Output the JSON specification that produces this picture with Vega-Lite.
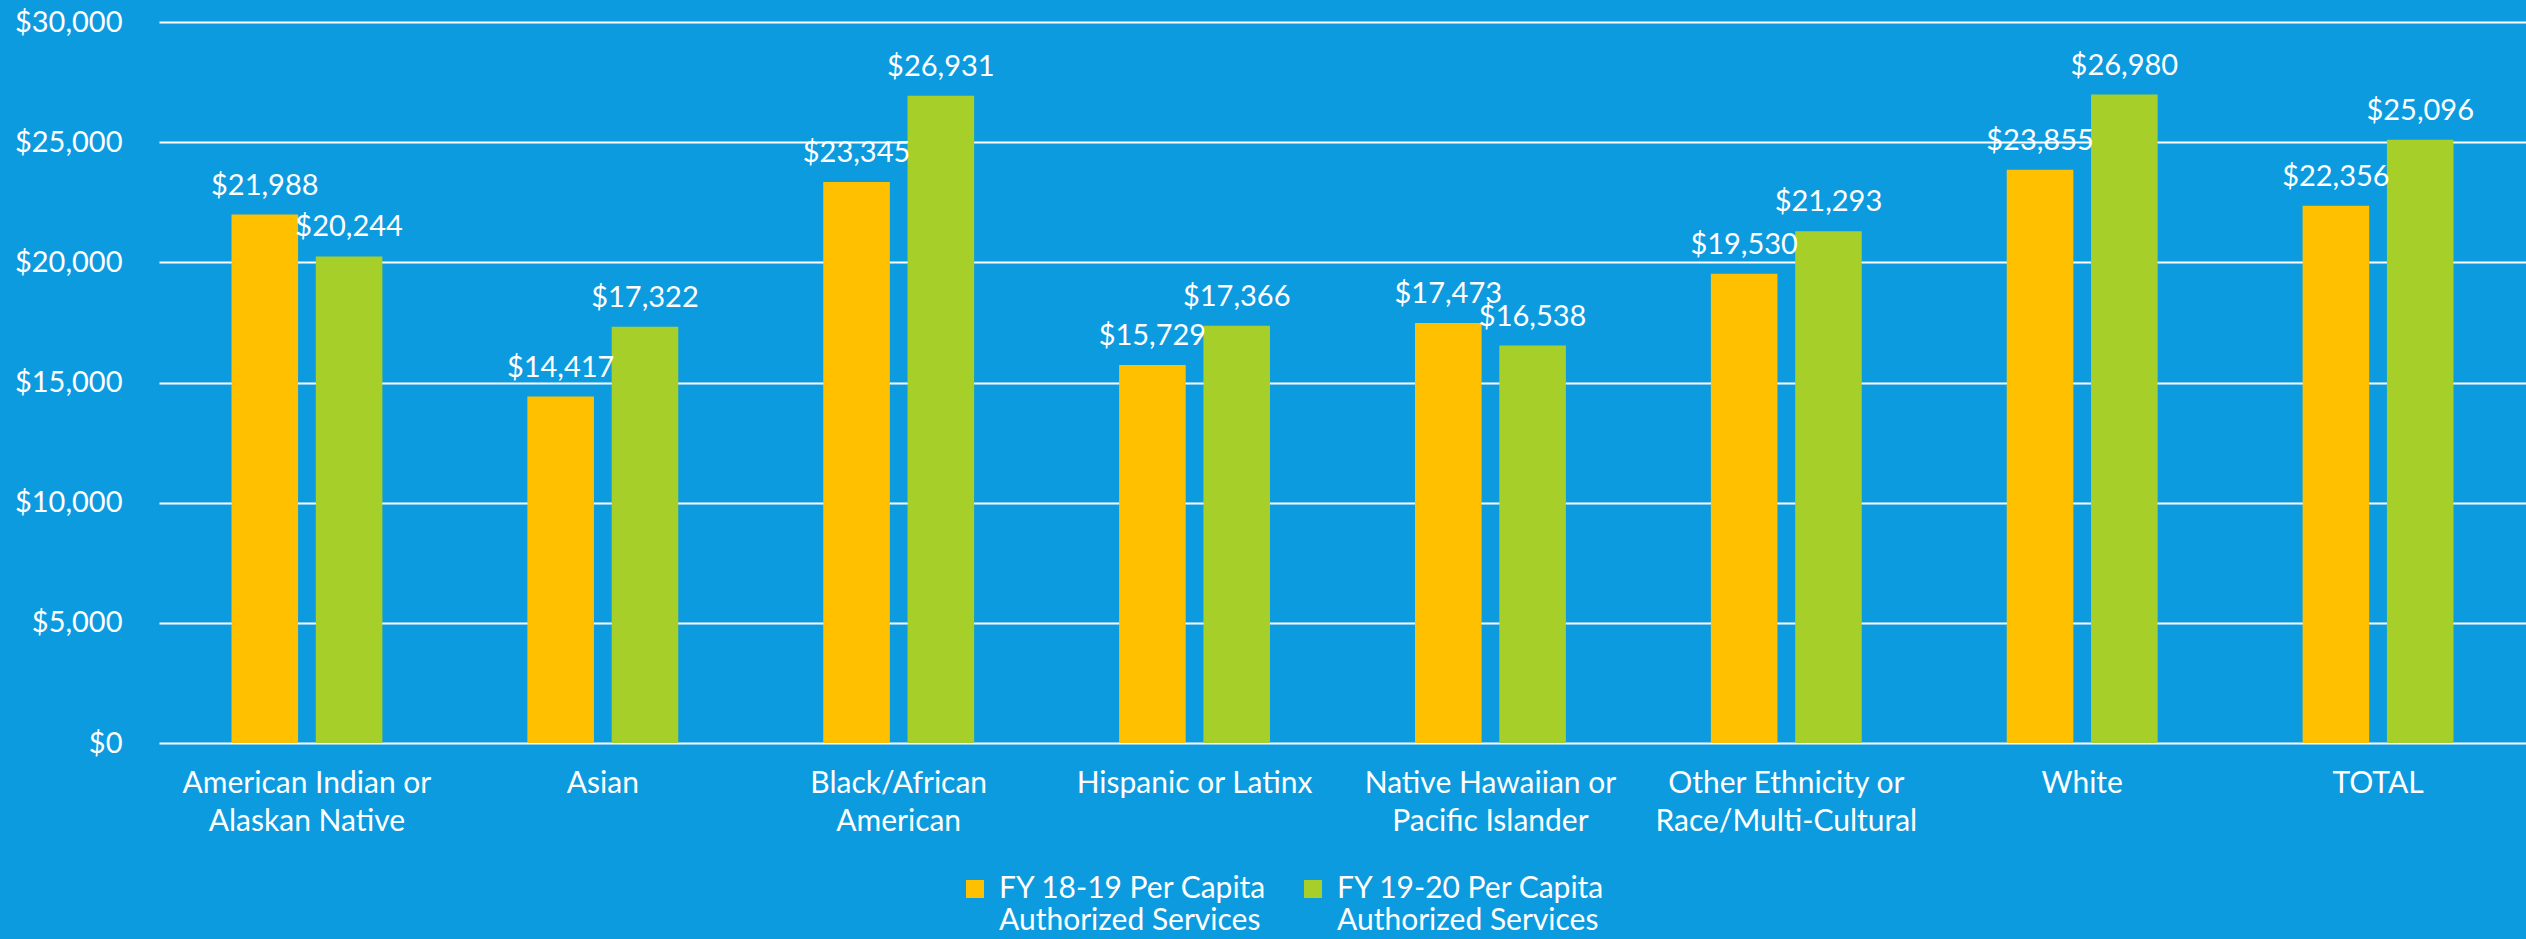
{
  "$schema": "https://vega.github.io/schema/vega-lite/v6.json",
  "width": 2367,
  "height": 721,
  "autosize": {"type": "none"},
  "padding": {"left": 159, "top": 22, "right": 0, "bottom": 196},
  "background": "#0C9BDF",
  "config": {
    "view": {"stroke": null},
    "font": "Lato"
  },
  "data": {
    "values": [
      {"category": "American Indian or\nAlaskan Native", "series": "FY 18-19 Per Capita\nAuthorized Services", "value": 21988},
      {"category": "American Indian or\nAlaskan Native", "series": "FY 19-20 Per Capita\nAuthorized Services", "value": 20244},
      {"category": "Asian", "series": "FY 18-19 Per Capita\nAuthorized Services", "value": 14417},
      {"category": "Asian", "series": "FY 19-20 Per Capita\nAuthorized Services", "value": 17322},
      {"category": "Black/African\nAmerican", "series": "FY 18-19 Per Capita\nAuthorized Services", "value": 23345},
      {"category": "Black/African\nAmerican", "series": "FY 19-20 Per Capita\nAuthorized Services", "value": 26931},
      {"category": "Hispanic or Latinx", "series": "FY 18-19 Per Capita\nAuthorized Services", "value": 15729},
      {"category": "Hispanic or Latinx", "series": "FY 19-20 Per Capita\nAuthorized Services", "value": 17366},
      {"category": "Native Hawaiian or\nPacific Islander", "series": "FY 18-19 Per Capita\nAuthorized Services", "value": 17473},
      {"category": "Native Hawaiian or\nPacific Islander", "series": "FY 19-20 Per Capita\nAuthorized Services", "value": 16538},
      {"category": "Other Ethnicity or\nRace/Multi-Cultural", "series": "FY 18-19 Per Capita\nAuthorized Services", "value": 19530},
      {"category": "Other Ethnicity or\nRace/Multi-Cultural", "series": "FY 19-20 Per Capita\nAuthorized Services", "value": 21293},
      {"category": "White", "series": "FY 18-19 Per Capita\nAuthorized Services", "value": 23855},
      {"category": "White", "series": "FY 19-20 Per Capita\nAuthorized Services", "value": 26980},
      {"category": "TOTAL", "series": "FY 18-19 Per Capita\nAuthorized Services", "value": 22356},
      {"category": "TOTAL", "series": "FY 19-20 Per Capita\nAuthorized Services", "value": 25096}
    ]
  },
  "encoding": {
    "x": {
      "field": "category",
      "type": "nominal",
      "sort": null,
      "scale": {"paddingInner": 0.49, "paddingOuter": 0.245},
      "axis": {
        "title": null,
        "labelAngle": 0,
        "labelExpr": "split(datum.value, '\\n')",
        "labelFontSize": 30,
        "labelLineHeight": 38,
        "labelColor": "white",
        "labelPadding": 25,
        "labelBaseline": "top",
        "labelLimit": 600,
        "ticks": false,
        "domain": false
      }
    },
    "xOffset": {
      "field": "series",
      "type": "nominal",
      "sort": null,
      "scale": {"paddingInner": 0.21, "paddingOuter": 0}
    },
    "y": {
      "field": "value",
      "type": "quantitative",
      "scale": {"domain": [0, 30000], "nice": false},
      "axis": {
        "title": null,
        "values": [0, 5000, 10000, 15000, 20000, 25000, 30000],
        "format": "$,.0f",
        "labelFontSize": 29,
        "labelColor": "white",
        "labelPadding": 37,
        "ticks": false,
        "domain": false,
        "gridColor": "white",
        "gridWidth": 2,
        "gridOpacity": 1
      }
    }
  },
  "layer": [
    {
      "mark": {"type": "bar"},
      "encoding": {
        "color": {
          "field": "series",
          "type": "nominal",
          "sort": null,
          "scale": {"range": ["#FFC000", "#A6CF2A"]},
          "legend": {
            "title": null,
            "orient": "none",
            "legendX": 801,
            "legendY": 852,
            "direction": "horizontal",
            "columns": 2,
            "symbolType": "square",
            "symbolSize": 324,
            "symbolOpacity": 1,
            "labelExpr": "split(datum.label, '\\n')",
            "labelFont": "Lato",
            "labelFontSize": 30,
            "labelLineHeight": 37,
            "labelColor": "white",
            "labelLimit": 400,
            "labelOffset": 9,
            "columnPadding": 30
          }
        }
      }
    },
    {
      "mark": {"type": "text", "color": "white", "fontSize": 29, "baseline": "alphabetic", "dy": -20},
      "encoding": {
        "text": {"field": "value", "type": "quantitative", "format": "$,.0f"}
      }
    }
  ]
}
